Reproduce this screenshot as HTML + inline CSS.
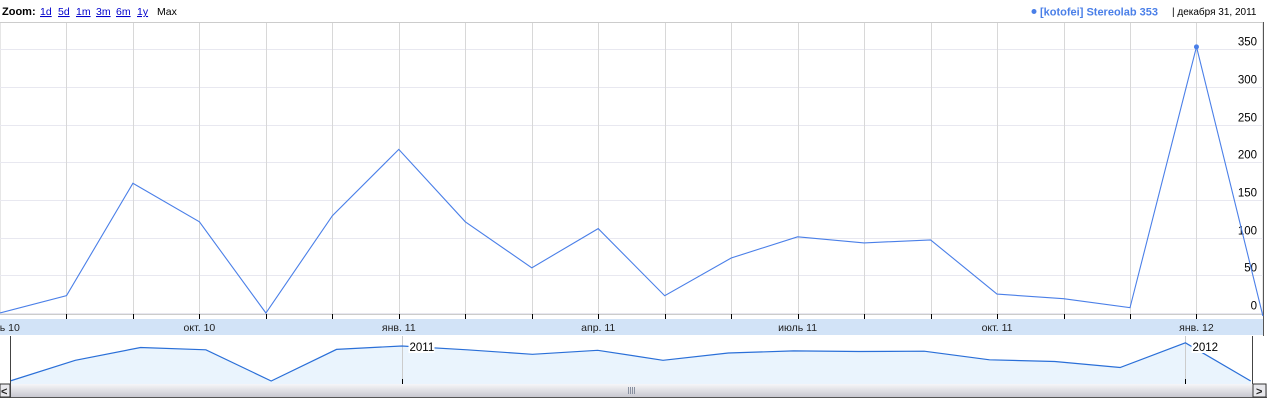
<!DOCTYPE html>
<html><head><meta charset="utf-8"><style>
body{margin:0;width:1267px;height:400px;background:#fff;overflow:hidden;font-family:"Liberation Sans",Verdana,sans-serif}
svg{position:absolute;left:0;top:0}
</style></head><body>
<svg width="1267" height="400">
<defs><linearGradient id="sb" x1="0" y1="0" x2="0" y2="1"><stop offset="0" stop-color="#f6f6f8"/><stop offset="1" stop-color="#c8c8d0"/></linearGradient></defs>
<g font-size="10.5">
<text x="2" y="15" font-weight="bold" font-size="11">Zoom:</text>
<text x="40" y="15" fill="#00c" text-decoration="underline">1d</text>
<text x="58" y="15" fill="#00c" text-decoration="underline">5d</text>
<text x="76" y="15" fill="#00c" text-decoration="underline">1m</text>
<text x="96" y="15" fill="#00c" text-decoration="underline">3m</text>
<text x="116" y="15" fill="#00c" text-decoration="underline">6m</text>
<text x="137" y="15" fill="#00c" text-decoration="underline">1y</text>
<text x="157" y="15" fill="#000">Max</text>
</g>
<g>
<circle cx="1034" cy="11.5" r="2.5" fill="#4a7fe8"/>
<text x="1040" y="15.5" font-size="11" font-weight="bold" fill="#4a7fe8">[kotofei] Stereolab 353</text>
<text x="1172" y="15" font-size="10" fill="#000">| декабря 31, 2011</text>
</g>
<rect x="0" y="22.5" width="1263" height="292" fill="none" stroke="#ccc"/>
<line x1="1263.5" y1="22" x2="1263.5" y2="336" stroke="#555"/>
<g id="grid"></g>
<rect x="0" y="319" width="1263" height="16" fill="#d2e3f7"/>
<g id="ticks"></g>
<g id="main"></g>
<g id="nav"></g>
<rect x="0" y="384" width="1267" height="13" fill="url(#sb)"/>
<line x1="0" y1="397.5" x2="1267" y2="397.5" stroke="#555"/>
<rect x="0" y="384" width="10" height="13" fill="#e8e8ec" stroke="#333"/>
<text x="1" y="395" font-size="11" font-weight="bold" fill="#222">&lt;</text>
<rect x="1253" y="384" width="13" height="13" fill="#e8e8ec" stroke="#333"/>
<text x="1256" y="395" font-size="11" font-weight="bold" fill="#222">&gt;</text>
<g stroke="#8890a0"><line x1="628.5" y1="387" x2="628.5" y2="394"/><line x1="630.5" y1="387" x2="630.5" y2="394"/><line x1="632.5" y1="387" x2="632.5" y2="394"/><line x1="634.5" y1="387" x2="634.5" y2="394"/></g>
<line x1="10.5" y1="336" x2="10.5" y2="398" stroke="#444"/>
<line x1="1252.5" y1="336" x2="1252.5" y2="384" stroke="#444"/>
</svg>
<script>
const values=[0,23,172,121,0,129,217,121,60,112,23,73,101,93,97,25,19,7,353,-4];
const yTicks=[0,50,100,150,200,250,300,350];
const axisLabels=["июль 10","окт. 10","янв. 11","апр. 11","июль 11","окт. 11","янв. 12"];
const axisLabelIdx=[-1,2,5,8,11,14,17];
const navYears=["2011","2012"];
const navYearIdx=[6,18];
const NS="http://www.w3.org/2000/svg";
function mk(t,a,p){const e=document.createElementNS(NS,t);for(const k in a)e.setAttribute(k,a[k]);p.appendChild(e);return e;}
const xs=i=>i*66.47;
const ys=v=>313-v*0.754;
const nx=i=>10+i*65.3;
const ny=v=>381-6.5*Math.log(1+Math.max(0,v));
const grid=document.getElementById('grid'),ticks=document.getElementById('ticks'),main=document.getElementById('main'),nav=document.getElementById('nav');
yTicks.forEach(t=>{const y=Math.round(ys(t))+0.5;
const l=mk('line',{x1:0,x2:1263,y1:y,y2:y,stroke:'#e8e8f0'},grid);


const tx=mk('text',{x:1257,y:y-4,'font-size':11.5,'text-anchor':'end',fill:'#000'},grid);tx.textContent=t;

});
for(let i=1;i<values.length-1;i++){const x=Math.round(xs(i))+0.5;
const l=mk('line',{x1:x,x2:x,y1:23,y2:314,stroke:'#d8d8d8'},grid);


const t=mk('line',{x1:x,x2:x,y1:314,y2:319,stroke:'#000'},ticks);

}
axisLabels.forEach((s,k)=>{const x=xs(axisLabelIdx[k]+1);
const t=mk('text',{x:x,y:331,'font-size':10.5,'text-anchor':'middle',fill:'#222'},ticks);t.textContent=s;

});
const pts=values.map((v,i)=>xs(i).toFixed(1)+','+ys(v).toFixed(1)).join(' ');
const pl=mk('polyline',{points:pts,fill:'none',stroke:'#4a7fe8','stroke-width':1.1},main);


const mi=values.indexOf(Math.max(...values));
const dot=mk('circle',{cx:xs(mi),cy:ys(values[mi]),r:2.5,fill:'#4a7fe8'},main);


const nbg=mk('rect',{x:10,y:336,width:1243,height:48,fill:'#fff'},nav);


const npts=values.map((v,i)=>nx(i).toFixed(1)+','+ny(v).toFixed(1));
const area=mk('polygon',{points:nx(0)+',384 '+npts.join(' ')+' '+nx(values.length-1)+',384',fill:'#eaf4fd'},nav);


navYearIdx.forEach((idx,k)=>{const x=Math.round(nx(idx))+0.5;
const l=mk('line',{x1:x,x2:x,y1:336,y2:384,stroke:'#ccc'},nav);


const tk=mk('line',{x1:x,x2:x,y1:379,y2:384,stroke:'#000'},nav);

});
const nl=mk('polyline',{points:npts.join(' '),fill:'none',stroke:'#2a6fd8','stroke-width':1.2},nav);


navYearIdx.forEach((idx,k)=>{const x=Math.round(nx(idx))+0.5;
const bg=mk('rect',{x:x+6,y:340,width:26,height:13,fill:'#fff'},nav);


const t=mk('text',{x:x+7,y:351,'font-size':11.5,fill:'#000'},nav);t.textContent=navYears[k];

});
</script>
</body></html>
